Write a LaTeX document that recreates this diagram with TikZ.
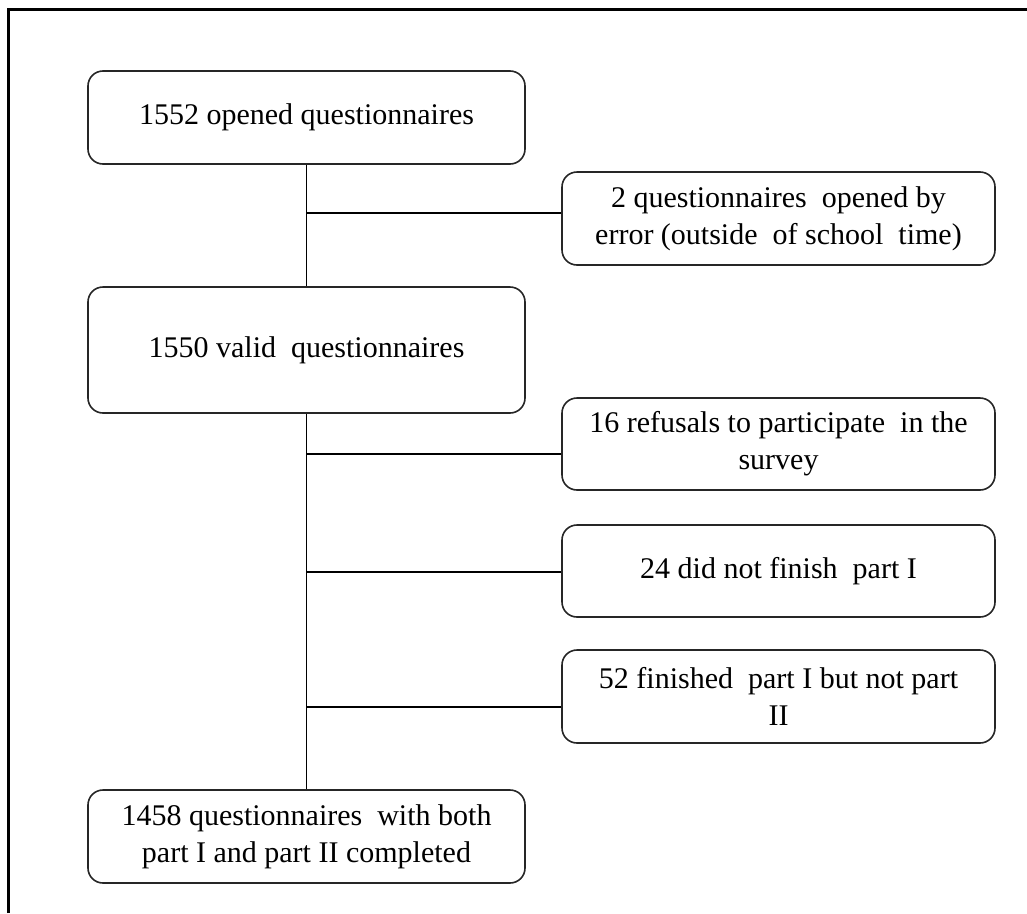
\documentclass[tikz,border=0pt]{standalone}
\usepackage{fontspec}
\setmainfont{Liberation Serif}
\begin{document}
\begin{tikzpicture}[x=1pt,y=-1pt,
  box/.style={draw=black!85,line width=1.6pt,rounded corners=15pt,rectangle,
    inner sep=0pt,align=center,font=\fontsize{30}{37}\selectfont},
  mainbox/.style={box,minimum width=437pt},
  sidebox/.style={box,minimum width=433pt,minimum height=93pt},
  link/.style={draw=black,line width=1.5pt},
  frame/.style={draw=black,line width=3pt}]
\useasboundingbox (0,0) rectangle (1027,913);
\coordinate (fa) at (8,913);
\coordinate (fb) at (8,9);
\coordinate (fc) at (1027,9);
\draw[frame] (fa) -- (fb) -- (fc);

\node[mainbox,minimum height=93pt] (b1) at (306.5,117.5) {1552 opened questionnaires};
\node[mainbox,minimum height=126pt] (b3) at (306.5,350) {1550 valid\ \ questionnaires};
\node[mainbox,minimum height=93pt] (b7) at (306.5,836.5) {1458 questionnaires\ \ with both\\part I and part II completed};

\node[sidebox] (b2) at (778.5,218.5) {2 questionnaires\ \ opened by\\error (outside\ \ of school\ \ time)};
\node[sidebox,minimum height=92pt] (b4) at (778.5,444) {16 refusals to participate\ \ in the\\survey};
\node[sidebox,minimum height=92pt] (b5) at (778.5,571) {24 did not finish\ \ part I};
\node[sidebox] (b6) at (778.5,696.5) {52 finished\ \ part I but not part\\II};

\draw[link] (b1.south) -- (b3.north);
\draw[link] (b3.south) -- (b7.north);

\coordinate (j1) at (306.5,213);
\coordinate (j4) at (306.5,454);
\coordinate (j5) at (306.5,572);
\coordinate (j6) at (306.5,707);
\draw[link] (j1) -- (j1 -| b2.west);
\draw[link] (j4) -- (j4 -| b4.west);
\draw[link] (j5) -- (j5 -| b5.west);
\draw[link] (j6) -- (j6 -| b6.west);
\end{tikzpicture}
\end{document}
